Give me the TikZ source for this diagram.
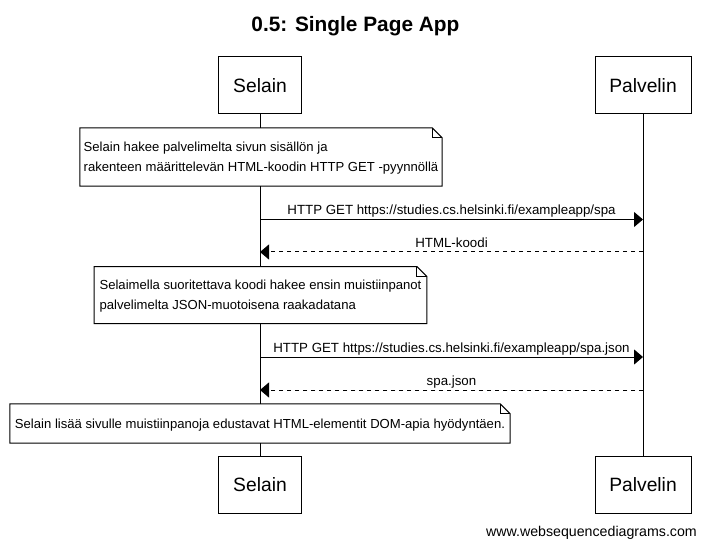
\documentclass[tikz,border=0pt]{standalone}
\usepackage{fontspec}
\setmainfont{Liberation Sans}
\usetikzlibrary{arrows.meta}
\newcommand\notefold[1]{%
  \draw[noteline] (#1.north west) -- ([xshift=-10bp]#1.north east) -- ([yshift=-10bp]#1.north east) -- (#1.south east) -- (#1.south west) -- cycle;
  \draw[noteline] ([xshift=-10bp]#1.north east) -- ([xshift=-10bp,yshift=-10bp]#1.north east) -- ([yshift=-10bp]#1.north east);}
\begin{document}
\begin{tikzpicture}[x=1bp,y=-1bp,
  actor/.style={draw, line width=1bp, inner sep=0pt, minimum height=57bp, fill=white,
    font=\fontsize{19.35}{22}\selectfont},
  lifeline/.style={line width=1bp},
  msg/.style={line width=1bp, -{Triangle[length=9bp,width=15bp]}},
  reply/.style={msg, dash pattern=on 4bp off 4bp},
  lbl/.style={font=\fontsize{13.35}{16}\selectfont, anchor=base, yshift=4.5bp, inner sep=0pt},
  note/.style={fill=white, inner sep=0pt, align=left, text depth=0pt, font=\fontsize{13.15}{20.07}\selectfont},
  noteline/.style={line width=1bp, line join=miter}
]
\useasboundingbox (0,0) rectangle (706,547);
\fill[white] (0,0) rectangle (706,547);

\node[font=\bfseries\fontsize{20.9}{24}\selectfont, anchor=base, inner sep=0pt] (title) at (355.4,32) {0.5: Single Page App};

% actors
\node[actor, minimum width=83bp] (sTop) at (260,85.5) {Selain};
\node[actor, minimum width=96bp] (pTop) at (643,85.5) {Palvelin};
\node[actor, minimum width=83bp] (sBot) at (260,484.5) {Selain};
\node[actor, minimum width=96bp] (pBot) at (643,484.5) {Palvelin};

% lifelines
\draw[lifeline] (sTop.south) -- (sBot.north);
\draw[lifeline] (pTop.south) -- (pBot.north);

% note 1
\node[note, minimum width=362bp, minimum height=58bp] (n1) at (261,157)
  {Selain hakee palvelimelta sivun sisällön ja\\rakenteen määrittelevän HTML-koodin HTTP GET -pyynnöllä};
\notefold{n1}

% messages
\coordinate (s1) at (260,219.5); \coordinate (p1) at (643,219.5);
\coordinate (s2) at (260,252);   \coordinate (p2) at (643,252);
\coordinate (s3) at (260,357);   \coordinate (p3) at (643,357);
\coordinate (s4) at (260,390);   \coordinate (p4) at (643,390);

\draw[msg] (s1) -- node[lbl] (l1) {HTTP GET https://studies.cs.helsinki.fi/exampleapp/spa} (p1);
\draw[reply] (p2) -- node[lbl] (l2) {HTML-koodi} (s2);

% note 2
\node[note, minimum width=332.4bp, minimum height=56.6bp] (n2) at (260.5,295)
  {Selaimella suoritettava koodi hakee ensin muistiinpanot\\palvelimelta JSON-muotoisena raakadatana};
\notefold{n2}

\draw[msg] (s3) -- node[lbl] (l3) {HTTP GET https://studies.cs.helsinki.fi/exampleapp/spa.json} (p3);
\draw[reply] (p4) -- node[lbl] (l4) {spa.json} (s4);

% note 3
\node[note, minimum width=500bp, minimum height=39bp] (n3) at (260,423.5)
  {Selain lisää sivulle muistiinpanoja edustavat HTML-elementit DOM-apia hyödyntäen.};
\notefold{n3}

\node[font=\fontsize{14.25}{17}\selectfont, anchor=base east, inner sep=0pt] (wsd) at (697,536) {www.websequencediagrams.com};
\end{tikzpicture}
\end{document}
